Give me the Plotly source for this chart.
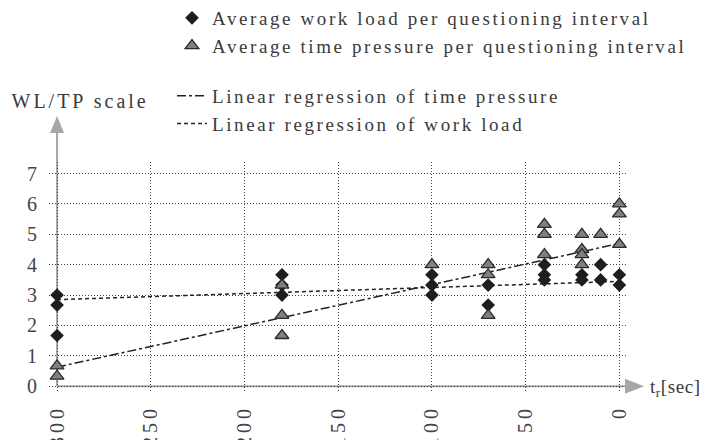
import json
import plotly.graph_objects as go

# ---------------- data ----------------
wl_x = [300, 300, 300, 180, 180, 180, 100, 100, 100, 70, 70, 40, 40, 40, 20, 20, 10, 10, 0, 0]
wl_y = [3.0, 2.67, 1.67, 3.67, 3.33, 3.0, 3.67, 3.33, 3.0, 3.33, 2.67, 4.0, 3.67, 3.5, 3.67, 3.5, 4.0, 3.5, 3.67, 3.33]
tp_x = [300, 300, 180, 180, 180, 100, 70, 70, 70, 40, 40, 40, 20, 20, 20, 20, 10, 0, 0, 0]
tp_y = [0.67, 0.33, 3.33, 2.33, 1.67, 4.0, 4.0, 3.67, 2.33, 5.33, 5.0, 4.33, 5.0, 4.5, 4.33, 4.0, 5.0, 6.0, 5.67, 4.67]
reg_x = [300, 0]
reg_tp_y = [0.63, 4.7]
reg_wl_y = [2.85, 3.45]
x_tick_vals = [300, 250, 200, 150, 100, 50, 0]
x_tick_text = ["300", "250", "200", "150", "100", "50", "0"]
y_tick_vals = [0, 1, 2, 3, 4, 5, 6, 7]

names = [
    "Average work load per questioning interval",
    "Average time pressure per questioning interval",
    "Linear regression of time pressure",
    "Linear regression of work load",
]
y_title = "WL/TP scale"
x_title = "t<sub>r</sub>[sec]"

# ---------------- layout constants ----------------
# the page body has an 8px margin, so the figure is 700x432 and every
# window-pixel position is shifted by OFF
OFF = 8
W, H = 700, 432
ML, MR, MT, MB = 41, 80, 154, 48
X_RANGE = [304.3, -4.6]
Y_RANGE = [-0.19, 7.38]
PW, PH = W - ML - MR, H - MT - MB
FONT = "Liberation Serif, Times New Roman, serif"
GREY = "#a6a6a6"
TXT = "#3a3a3a"


def xp(v):
    return (X_RANGE[0] - v) / (X_RANGE[0] - X_RANGE[1])


def yp(v):
    return (v - Y_RANGE[0]) / (Y_RANGE[1] - Y_RANGE[0])


def px_x(p):  # window pixel -> paper x
    return (p - OFF - ML) / PW


def px_y(p):  # window pixel -> paper y
    return (H - MB - (p - OFF)) / PH


fig = go.Figure()

fig.add_trace(go.Scatter(
    x=reg_x, y=reg_tp_y, mode="lines", name=names[2], legend="legend2",
    line=dict(color="#222222", width=1.5, dash="dashdot"),
))
fig.add_trace(go.Scatter(
    x=reg_x, y=reg_wl_y, mode="lines", name=names[3], legend="legend2",
    line=dict(color="#222222", width=1.5, dash="4px,3px"),
))
fig.add_trace(go.Scatter(
    x=wl_x, y=wl_y, mode="markers", name=names[0], legend="legend",
    marker=dict(symbol="diamond", size=10.5, color="#1e1e1e", line=dict(width=0)),
))
fig.add_trace(go.Scatter(
    x=tp_x, y=tp_y, mode="markers", name=names[1], legend="legend",
    marker=dict(symbol="triangle-up", size=12, color="#808080",
                line=dict(color="#2a2a2a", width=1.3)),
))

axis_common = dict(
    showgrid=True, gridcolor="#444444", gridwidth=1, griddash="1px,2px",
    zeroline=False, showline=False, automargin=False,
    ticks="outside", tickcolor="rgba(0,0,0,0)",
    tickfont=dict(family=FONT, size=20, color="#454545"),
)
fig.update_xaxes(range=X_RANGE, tickmode="array", tickvals=x_tick_vals,
                 ticktext=x_tick_text, tickangle=-90, ticklen=4, **axis_common)
fig.update_yaxes(range=Y_RANGE, tickmode="array", tickvals=y_tick_vals,
                 ticklen=7, **axis_common)

shapes = [
    # y axis (grey arrow)
    dict(type="line", xref="paper", yref="paper", x0=xp(300), x1=xp(300),
         y0=yp(0), y1=px_y(132), line=dict(color=GREY, width=2), layer="below"),
    dict(type="path", xref="paper", yref="paper", fillcolor=GREY, line=dict(width=0),
         path=f"M {xp(300) - 7 / PW} {px_y(133)} L {xp(300) + 7 / PW} {px_y(133)} "
              f"L {xp(300)} {px_y(116)} Z"),
    # x axis (grey arrow)
    dict(type="line", xref="paper", yref="paper", x0=xp(300), x1=px_x(626),
         y0=yp(0), y1=yp(0), line=dict(color=GREY, width=2), layer="below"),
    dict(type="path", xref="paper", yref="paper", fillcolor=GREY, line=dict(width=0),
         path=f"M {px_x(625)} {yp(0) + 7.5 / PH} L {px_x(625)} {yp(0) - 7.5 / PH} "
              f"L {px_x(644)} {yp(0)} Z"),
]

annotations = [
    dict(text=y_title, xref="paper", yref="paper", x=px_x(80), y=px_y(101),
         xanchor="center", yanchor="middle", showarrow=False,
         font=dict(family=FONT, size=20, color=TXT)),
    dict(text=x_title, xref="paper", yref="paper", x=px_x(675), y=px_y(388),
         xanchor="center", yanchor="middle", showarrow=False,
         font=dict(family=FONT, size=19, color=TXT)),
]

legend_font = dict(family=FONT, size=19, color=TXT)
fig.update_layout(
    width=W, height=H,
    margin=dict(l=ML, r=MR, t=MT, b=MB, autoexpand=False),
    paper_bgcolor="white", plot_bgcolor="white",
    shapes=shapes, annotations=annotations,
    showlegend=True,
    legend=dict(x=px_x(172), y=px_y(-1), xanchor="left", yanchor="top",
                font=legend_font, bgcolor="rgba(0,0,0,0)", traceorder="normal"),
    legend2=dict(x=px_x(172), y=px_y(77), xanchor="left", yanchor="top",
                 font=legend_font, bgcolor="rgba(0,0,0,0)", traceorder="normal"),
)

post = """
var gd = document.getElementById('{plot_id}');
var st = document.createElement('style');
st.textContent = [
  '.legendtext { letter-spacing: 2.6px; }',
  '.scrollbox { clip-path: none !important; }',
  '.xtick text { letter-spacing: 4px; }',
  '.annotation[data-index="0"] .annotation-text { letter-spacing: 3px; }',
  '.annotation[data-index="1"] .annotation-text { letter-spacing: 0.6px; }'
].join('\\n');
document.head.appendChild(st);
var legendNames = NAMES_JSON;
function fixText(){
  gd.querySelectorAll('text').forEach(function(t){
    var c = t.getAttribute('class') || '';
    if (c.indexOf('legendtext') >= 0 || legendNames.indexOf(t.textContent) >= 0) {
      t.style.letterSpacing = '2.6px';
    }
  });
  gd.querySelectorAll('.scrollbox').forEach(function(s){
    s.removeAttribute('clip-path');
    s.style.clipPath = 'none';
  });
}
fixText();
setTimeout(fixText, 30);
setTimeout(fixText, 200);
setTimeout(fixText, 600);
""".replace("NAMES_JSON", json.dumps(names))

fig.write_html("out.html", post_script=post)
